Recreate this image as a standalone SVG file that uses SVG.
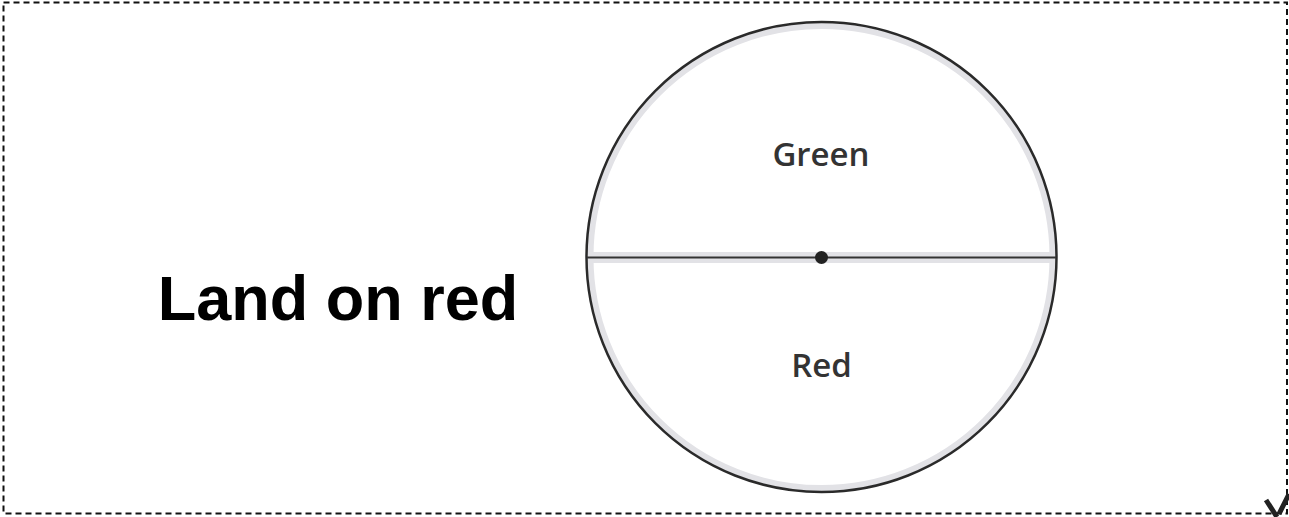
<svg xmlns="http://www.w3.org/2000/svg" width="1289" height="517" viewBox="0 0 1289 517">
<style>
.border{fill:none;stroke:#111;stroke-width:2;stroke-dasharray:6 4}
.label{font-family:"Open Sans","Liberation Sans",sans-serif;font-weight:600;font-size:33px;fill:#333;text-anchor:middle}
.title{font-family:"Liberation Sans",Arial,sans-serif;font-weight:bold;font-size:63px;fill:#000;text-anchor:middle}
</style>
<rect width="1289" height="517" fill="#fff"/>
<rect class="border" x="3.5" y="2.5" width="1283.5" height="511"/>
<g id="title"><text class="title" x="338" y="320">Land on red</text></g>
<g id="spinner">
<circle cx="821.5" cy="257" r="231" fill="#fff" stroke="#e2e2e6" stroke-width="6"/>
<circle cx="821.5" cy="257" r="235" fill="none" stroke="#2a2a2a" stroke-width="2.5"/>
<rect x="588" y="252" width="467" height="11" fill="#e2e2e6"/>
<line x1="587" y1="257.5" x2="1056" y2="257.5" stroke="#333" stroke-width="2.2"/>
<circle cx="821.5" cy="257.5" r="6.5" fill="#222"/>
</g>
<g id="green"><text class="label" x="821" y="166">Green</text></g>
<g id="red"><text class="label" x="821.5" y="377">Red</text></g>
<path d="M1266 500 L1277 517 M1279 514 L1289 494" fill="none" stroke="#222" stroke-width="5"/>
</svg>
